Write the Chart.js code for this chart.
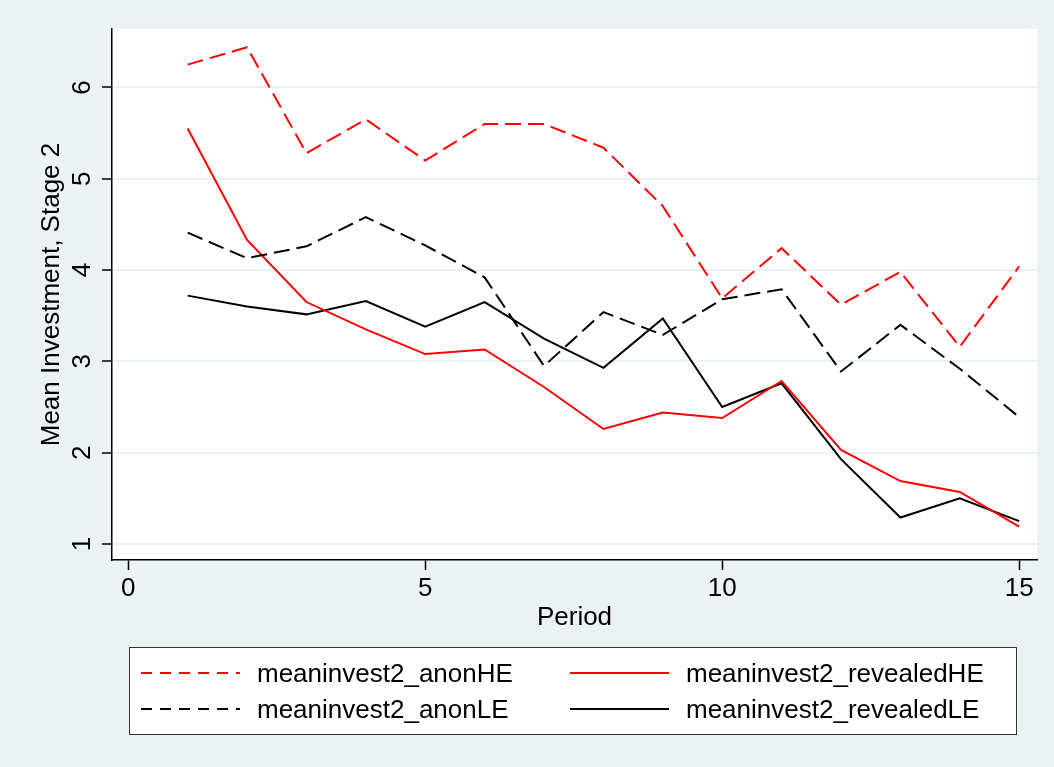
<!DOCTYPE html>
<html>
<head>
<meta charset="utf-8">
<title>Mean Investment, Stage 2</title>
<script src="https://cdn.jsdelivr.net/npm/chart.js@4.4.1/dist/chart.umd.min.js"></script>
<style>
  html, body { margin: 0; padding: 0; background: #eaf2f3; }
  #wrap { width: 1054px; height: 767px; }
</style>
</head>
<body>
<div id="wrap"><canvas id="lineChart" width="1054" height="767"></canvas></div>
<script>
// Data
const periods = [1, 2, 3, 4, 5, 6, 7, 8, 9, 10, 11, 12, 13, 14, 15];
const anonHE = [6.25, 6.44, 5.28, 5.65, 5.20, 5.60, 5.60, 5.34, 4.70, 3.69, 4.24, 3.62, 3.98, 3.16, 4.04];
const anonLE = [4.41, 4.13, 4.26, 4.58, 4.27, 3.92, 2.95, 3.54, 3.29, 3.68, 3.79, 2.89, 3.40, 2.92, 2.39];
const revealedHE = [5.55, 4.33, 3.65, 3.35, 3.08, 3.13, 2.72, 2.26, 2.44, 2.38, 2.785, 2.03, 1.69, 1.57, 1.19];
const revealedLE = [3.72, 3.60, 3.515, 3.66, 3.38, 3.65, 3.25, 2.93, 3.47, 2.50, 2.76, 1.93, 1.29, 1.50, 1.25];

const seriesNames = ["meaninvest2_anonHE", "meaninvest2_anonLE", "meaninvest2_revealedHE", "meaninvest2_revealedLE"];
const xTicks = [0, 5, 10, 15];
const yTicks = [1, 2, 3, 4, 5, 6];

const FONT = '"Liberation Sans", Arial, Helvetica, sans-serif';
Chart.defaults.font.family = FONT;
Chart.defaults.color = "#000";

function toPoints(values) {
  return periods.map((p, i) => ({ x: p, y: values[i] }));
}

// Page background + white plot region
const backgroundPlugin = {
  id: "stataBackground",
  beforeDraw(chart) {
    const { ctx, chartArea } = chart;
    ctx.save();
    ctx.fillStyle = "#eaf2f3";
    ctx.fillRect(0, 0, chart.width, chart.height);
    ctx.fillStyle = "#ffffff";
    ctx.fillRect(chartArea.left, chartArea.top, chartArea.right - chartArea.left, chartArea.bottom - chartArea.top);
    ctx.restore();
  }
};

// Rotated y tick labels, Stata style
const yLabelPlugin = {
  id: "yTickLabels",
  afterDraw(chart) {
    const { ctx } = chart;
    const y = chart.scales.y;
    ctx.save();
    ctx.font = "26px " + FONT;
    ctx.fillStyle = "#000";
    ctx.textAlign = "center";
    ctx.textBaseline = "alphabetic";
    yTicks.forEach(v => {
      ctx.save();
      ctx.translate(90, y.getPixelForValue(v));
      ctx.rotate(-Math.PI / 2);
      ctx.fillText(String(v), 0, 0);
      ctx.restore();
    });
    ctx.restore();
  }
};

// Two column legend box under the plot
const legendPlugin = {
  id: "boxLegend",
  afterDraw(chart) {
    const { ctx } = chart;
    const box = { x: 129.5, y: 647.5, w: 887, h: 87 };
    ctx.save();
    ctx.fillStyle = "#ffffff";
    ctx.fillRect(box.x, box.y, box.w, box.h);
    ctx.strokeStyle = "#333";
    ctx.lineWidth = 1;
    ctx.strokeRect(box.x, box.y, box.w, box.h);

    const cols = [{ x0: 141, x1: 240, tx: 257 }, { x0: 570, x1: 669, tx: 686 }];
    const rows = [673, 709];
    chart.data.datasets.forEach((ds, i) => {
      const col = cols[Math.floor(i / 2)];
      const rowY = rows[i % 2];
      ctx.beginPath();
      ctx.strokeStyle = ds.borderColor;
      ctx.lineWidth = 2;
      ctx.setLineDash(ds.borderDash && ds.borderDash.length ? [11, 8] : []);
      ctx.moveTo(col.x0, rowY);
      ctx.lineTo(col.x1, rowY);
      ctx.stroke();
      ctx.setLineDash([]);
      ctx.fillStyle = "#000";
      ctx.font = "26px " + FONT;
      ctx.textAlign = "left";
      ctx.textBaseline = "middle";
      ctx.fillText(ds.label, col.tx, rowY + 2);
    });
    ctx.restore();
  }
};

const ctx = document.getElementById("lineChart").getContext("2d");
new Chart(ctx, {
  type: "line",
  data: {
    datasets: [
      { label: seriesNames[0], data: toPoints(anonHE), borderColor: "#ff0000", borderDash: [16, 7] },
      { label: seriesNames[1], data: toPoints(anonLE), borderColor: "#000000", borderDash: [16, 7] },
      { label: seriesNames[2], data: toPoints(revealedHE), borderColor: "#ff0000", borderDash: [] },
      { label: seriesNames[3], data: toPoints(revealedLE), borderColor: "#000000", borderDash: [] }
    ].map(ds => Object.assign(ds, { borderWidth: 2, pointRadius: 0, tension: 0, fill: false }))
  },
  options: {
    responsive: false,
    animation: false,
    layout: { padding: { top: 29, right: 17, left: 0, bottom: 127 } },
    plugins: {
      legend: { display: false },
      tooltip: { enabled: false }
    },
    scales: {
      x: {
        type: "linear",
        min: -0.274,
        max: 15.30,
        afterBuildTicks: s => { s.ticks = xTicks.map(v => ({ value: v })); },
        afterFit: s => { s.height = 80; },
        grid: { drawOnChartArea: false, drawTicks: true, tickLength: 10, tickColor: "#000", tickWidth: 1.5 },
        border: { color: "#000", width: 1.5 },
        ticks: { font: { size: 26 }, color: "#000", padding: 3, maxRotation: 0, autoSkip: false },
        title: { display: true, text: "Period", font: { size: 26 }, color: "#000", padding: { top: 0, bottom: 7 } }
      },
      y: {
        type: "linear",
        min: 0.825,
        max: 6.64,
        afterBuildTicks: s => { s.ticks = yTicks.map(v => ({ value: v })); },
        afterFit: s => { s.width = 112; },
        grid: { color: "#eaf2f3", lineWidth: 2, drawTicks: true, tickLength: 10, tickColor: "#000", tickWidth: 1.5 },
        border: { color: "#000", width: 1.5 },
        ticks: { display: false },
        title: { display: true, text: "Mean Investment, Stage 2", font: { size: 26 }, color: "#000", padding: { top: 36 } }
      }
    }
  },
  plugins: [backgroundPlugin, yLabelPlugin, legendPlugin]
});
</script>
</body>
</html>
